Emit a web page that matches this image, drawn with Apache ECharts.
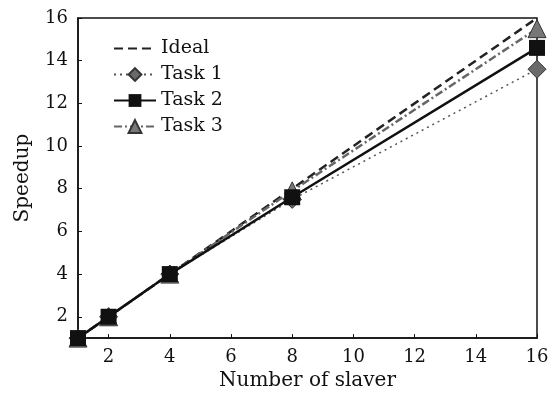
<!DOCTYPE html>
<html lang="en">
<head>
    <meta charset="UTF-8">
    <title>Speedup</title>
    <script src="https://cdn.jsdelivr.net/npm/echarts@6/dist/echarts.min.js"></script>
    <style>
        html, body { margin: 0; padding: 0; background: #fff; }
        #chart { width: 552px; height: 396px; }
    </style>
</head>
<body>
    <div id="chart"></div>
    <script>
        // 数据
        const slaves = [1, 2, 4, 8, 16];
        const ideal = [1, 2, 4, 8, 16];
        const task1 = [1, 2, 4, 7.5, 13.6];
        const task2 = [1, 2, 4, 7.6, 14.6];
        const task3 = [1, 2, 4, 7.9, 15.5];
        const tickValues = [2, 4, 6, 8, 10, 12, 14, 16];

        const pairs = arr => slaves.map((x, i) => [x, arr[i]]);
        const font = 'DejaVu Serif';

        const myChart = echarts.init(document.getElementById('chart'), null, { renderer: 'canvas' });

        const axisCommon = {
            type: 'value',
            min: 1,
            max: 16,
            nameLocation: 'middle',
            nameTextStyle: { fontFamily: font, fontSize: 20, color: '#111' },
            axisLine: { show: true, lineStyle: { color: '#111', width: 1.5 } },
            axisTick: { show: true, inside: true, length: 4, customValues: tickValues, lineStyle: { color: '#111' } },
            axisLabel: { customValues: tickValues, fontFamily: font, fontSize: 18, color: '#111', margin: 10 },
            splitLine: { show: false }
        };

        const option = {
            animation: false,
            grid: {
                left: 78, right: 15, top: 18, bottom: 52,
                show: true, borderColor: '#111', borderWidth: 1.5
            },
            legend: {
                orient: 'vertical',
                left: 108,
                top: 34,
                itemWidth: 42,
                itemHeight: 16,
                itemGap: 7,
                textStyle: { fontFamily: font, fontSize: 19, color: '#111' },
                data: [
                    { name: 'Ideal', itemStyle: { opacity: 0 } },
                    'Task 1', 'Task 2', 'Task 3'
                ]
            },
            xAxis: Object.assign({}, axisCommon, { name: 'Number of slaver', nameGap: 26 }),
            yAxis: Object.assign({}, axisCommon, { name: 'Speedup', nameGap: 45 }),
            series: [
                {
                    name: 'Ideal',
                    type: 'line',
                    data: pairs(ideal),
                    symbol: 'none',
                    lineStyle: { color: '#222', width: 2.5, type: [9, 5] },
                    itemStyle: { color: '#222' },
                    z: 3
                },
                {
                    name: 'Task 1',
                    type: 'line',
                    data: pairs(task1),
                    symbol: 'diamond',
                    symbolSize: 18,
                    lineStyle: { color: '#555', width: 1.5, type: [2, 4] },
                    itemStyle: { color: '#6a6a6a', borderColor: '#333', borderWidth: 1 },
                    z: 2
                },
                {
                    name: 'Task 2',
                    type: 'line',
                    data: pairs(task2),
                    symbol: 'rect',
                    symbolSize: 16,
                    lineStyle: { color: '#111', width: 2.5 },
                    itemStyle: { color: '#111' },
                    z: 4
                },
                {
                    name: 'Task 3',
                    type: 'line',
                    data: pairs(task3),
                    symbol: 'triangle',
                    symbolSize: 18,
                    lineStyle: { color: '#666', width: 2.5, type: [8, 3, 2, 3] },
                    itemStyle: { color: '#777', borderColor: '#333', borderWidth: 1 },
                    z: 3
                }
            ]
        };

        myChart.setOption(option);
    </script>
</body>
</html>
